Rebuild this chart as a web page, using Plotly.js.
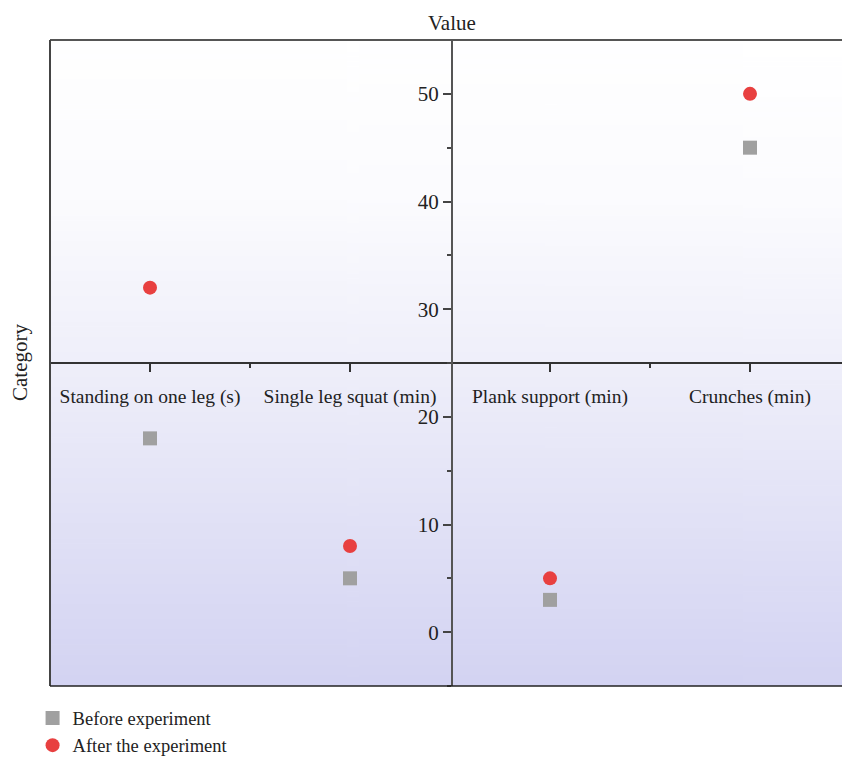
<!DOCTYPE html>
<html>
<head>
<meta charset="utf-8">
<script src="https://cdn.plot.ly/plotly-3.0.1.min.js"></script>
<style>html,body{margin:0;padding:0;overflow:hidden;background:#fff;}#chart{width:842px;height:758px;}</style>
</head>
<body>
<div id="chart"></div>
<script>
const categories = ["Standing on one leg (s)", "Single leg squat (min)", "Plank support (min)", "Crunches (min)"];
const beforeValues = [18, 5, 3, 45];
const afterValues = [32, 8, 5, 50];
const seriesNames = ["Before experiment", "After the experiment"];
const yTickValues = [0, 10, 20, 30, 40, 50];

// gradient background image
const cv = document.createElement('canvas');
cv.width = 4; cv.height = 256;
const ctx = cv.getContext('2d');
const g = ctx.createLinearGradient(0, 0, 0, 256);
g.addColorStop(0, '#ffffff');
g.addColorStop(0.25, '#fbfbfe');
g.addColorStop(0.5, '#efeffa');
g.addColorStop(1, '#d3d3f2');
ctx.fillStyle = g; ctx.fillRect(0, 0, 4, 256);
const bg = cv.toDataURL();

const font = 'Liberation Serif, Times New Roman, serif';
const fs = 21;
const xIdx = categories.map((c, i) => i);

const traces = [
  {x: xIdx, y: beforeValues, name: seriesNames[0], type: 'scatter', mode: 'markers',
   marker: {symbol: 'square', size: 14, color: '#a0a0a0'}},
  {x: xIdx, y: afterValues, name: seriesNames[1], type: 'scatter', mode: 'markers',
   marker: {symbol: 'circle', size: 14, color: '#e84040'}}
];

const xr = [-0.5, 3.46];
const yr = [-5, 55];
const layout = {
  width: 842, height: 758,
  margin: {l: 50, r: 0, t: 40, b: 72, autoexpand: false},
  paper_bgcolor: '#ffffff', plot_bgcolor: 'rgba(0,0,0,0)',
  font: {family: font, size: fs, color: '#222'},
  showlegend: true,
  legend: {x: -0.022, y: -0.021, xanchor: 'left', yanchor: 'top', bgcolor: 'rgba(0,0,0,0)',
           font: {family: font, size: 18.5, color: '#222'}, itemwidth: 30, tracegroupgap: 0},
  xaxis: {
    range: xr, anchor: 'free', position: (25 - yr[0]) / (yr[1] - yr[0]),
    tickmode: 'array', tickvals: xIdx, ticktext: categories,
    ticks: 'outside', ticklen: 8, tickwidth: 1.5, tickcolor: '#333',
    minor: {tickvals: [0.5, 2.5], ticks: 'outside', ticklen: 4, tickwidth: 1.5, tickcolor: '#333'},
    showline: true, linecolor: '#333', linewidth: 1.5,
    showgrid: false, zeroline: false,
    tickfont: {family: font, size: 19.5, color: '#222'}, ticklabelstandoff: 8
  },
  yaxis: {
    range: yr, anchor: 'free', position: (452 - 50) / 792,
    tickmode: 'array', tickvals: yTickValues,
    ticks: 'outside', ticklen: 8, tickwidth: 1.5, tickcolor: '#444',
    minor: {tickvals: [-5, 5, 15, 25, 35, 45], ticks: 'outside', ticklen: 4, tickwidth: 1.5, tickcolor: '#444'},
    showline: true, linecolor: '#555', linewidth: 2,
    showgrid: false, zeroline: false,
    tickfont: {family: font, size: fs, color: '#222'}
  },
  images: [{source: bg, xref: 'paper', yref: 'paper', x: 0, y: 1, sizex: 1, sizey: 1,
            sizing: 'stretch', layer: 'below', xanchor: 'left', yanchor: 'top'}],
  shapes: [
    {type: 'line', xref: 'paper', yref: 'paper', x0: 0, x1: 1, y0: 1, y1: 1, line: {color: '#555', width: 2}},
    {type: 'line', xref: 'paper', yref: 'paper', x0: 0, x1: 0, y0: 0, y1: 1, line: {color: '#444', width: 2}},
    {type: 'line', xref: 'paper', yref: 'paper', x0: 0, x1: 1, y0: 0, y1: 0, line: {color: '#222', width: 1.5}}
  ],
  annotations: [
    {text: 'Value', xref: 'paper', yref: 'paper', x: (452 - 50) / 792, y: 1, yshift: 3, xanchor: 'center', yanchor: 'bottom',
     showarrow: false, font: {family: font, size: fs, color: '#222'}},
    {text: 'Category', xref: 'paper', yref: 'y', x: 0, xshift: -30, y: 25, textangle: -90,
     xanchor: 'center', yanchor: 'middle', showarrow: false, font: {family: font, size: fs, color: '#222'}}
  ]
};

Plotly.newPlot('chart', traces, layout, {displayModeBar: false, responsive: false});
</script>
</body>
</html>
